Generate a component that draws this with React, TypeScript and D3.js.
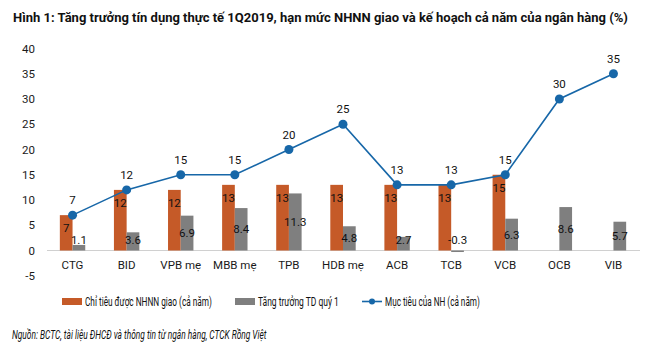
import React, { useEffect, useRef } from 'react';
import * as d3 from 'd3';

const banks = ['CTG', 'BID', 'VPB mẹ', 'MBB mẹ', 'TPB', 'HDB mẹ', 'ACB', 'TCB', 'VCB', 'OCB', 'VIB'];
const sbvQuota = [7, 12, 12, 13, 13, 13, 13, 13, 15, null, null];
const q1Growth = [1.1, 3.6, 6.9, 8.4, 11.3, 4.8, 2.7, -0.3, 6.3, 8.6, 5.7];
const bankTarget = [7, 12, 15, 15, 20, 25, 13, 13, 15, 30, 35];
const yTicks = [-5, 0, 5, 10, 15, 20, 25, 30, 35, 40];

const title = 'Hình 1: Tăng trưởng tín dụng thực tế 1Q2019, hạn mức NHNN giao và kế hoạch cả năm của ngân hàng (%)';
const legendNames = ['Chỉ tiêu được NHNN giao (cả năm)', 'Tăng trưởng TD quý 1', 'Mục tiêu của NH (cả năm)'];
const source = 'Nguồn: BCTC, tài liệu ĐHCĐ và thông tin từ ngân hàng, CTCK Rồng Việt';

const ORANGE = '#c55a28';
const GRAY = '#7f7f7f';
const BLUE = '#1767a8';
const FONT = '"Roboto", sans-serif';

function CreditChart() {
  const ref = useRef<SVGSVGElement>(null);

  useEffect(() => {
    const svg = d3.select(ref.current);
    svg.selectAll('*').remove();
    svg.style('font-family', FONT);

    const x = d3.scaleBand().domain(banks).range([45.5, 640.5]);
    const y = d3.scaleLinear().domain([-5, 40]).range([275.75, 48.5]);
    const barW = 12.7;
    const rows = banks.map((b, i) => ({ bank: b, quota: sbvQuota[i], growth: q1Growth[i], target: bankTarget[i] }));
    const cx = (b: string) => (x(b) as number) + x.bandwidth() / 2;

    // squeeze a text horizontally to the given width (the original uses a condensed face)
    const condensed = (px: number, py: number, str: string, width: number, size: number, extra?: (t: any) => void) => {
      const g = svg.append('g');
      const t = g.append('text').attr('x', 0).attr('y', 0)
        .attr('font-size', size).attr('fill', '#111').text(str);
      if (extra) extra(t);
      const w = (t.node() as SVGTextElement).getComputedTextLength();
      g.attr('transform', `translate(${px},${py}) scale(${width / w},1)`);
    };

    // title
    condensed(13, 21.5, title, 615, 13, t => t.attr('font-weight', 'bold'));

    // y tick labels, no axis line
    svg.append('g').selectAll('text')
      .data(yTicks).enter().append('text')
      .attr('x', 35).attr('y', d => y(d) + 4)
      .attr('text-anchor', 'end').attr('font-size', 11.5).attr('fill', '#1a1a1a')
      .text(d => d);

    // zero axis
    svg.append('line')
      .attr('x1', 47).attr('x2', 640)
      .attr('y1', y(0)).attr('y2', y(0))
      .attr('stroke', '#d0d0d0').attr('stroke-width', 1);

    // orange bars
    const quotaRows = rows.filter(d => d.quota !== null);
    svg.append('g').selectAll('rect')
      .data(quotaRows).enter().append('rect')
      .attr('x', d => cx(d.bank) - barW)
      .attr('width', barW)
      .attr('y', d => y(d.quota as number))
      .attr('height', d => y(0) - y(d.quota as number))
      .attr('fill', ORANGE);

    // gray bars
    svg.append('g').selectAll('rect')
      .data(rows).enter().append('rect')
      .attr('x', d => cx(d.bank))
      .attr('width', barW)
      .attr('y', d => Math.min(y(d.growth), y(0)))
      .attr('height', d => Math.max(Math.abs(y(0) - y(d.growth)), 1))
      .attr('fill', GRAY);

    // category labels
    svg.append('g').selectAll('text')
      .data(banks).enter().append('text')
      .attr('x', d => cx(d)).attr('y', 269)
      .attr('text-anchor', 'middle').attr('font-size', 11.5).attr('fill', '#1a1a1a')
      .text(d => d);

    // target line
    const line = d3.line<typeof rows[0]>().x(d => cx(d.bank)).y(d => y(d.target));
    svg.append('path')
      .datum(rows)
      .attr('d', line)
      .attr('fill', 'none').attr('stroke', BLUE).attr('stroke-width', 1.6);
    svg.append('g').selectAll('circle')
      .data(rows).enter().append('circle')
      .attr('cx', d => cx(d.bank)).attr('cy', d => y(d.target))
      .attr('r', 4.5).attr('fill', BLUE);

    // data labels
    svg.append('g').selectAll('text')
      .data(rows).enter().append('text')
      .attr('x', d => cx(d.bank)).attr('y', d => y(d.target) - 11)
      .attr('text-anchor', 'middle').attr('font-size', 11.5).attr('fill', '#111')
      .text(d => d.target);

    svg.append('g').selectAll('text')
      .data(quotaRows).enter().append('text')
      .attr('x', d => cx(d.bank) - barW / 2).attr('y', d => y(d.quota as number) + 17)
      .attr('text-anchor', 'middle').attr('font-size', 11.5).attr('fill', '#111')
      .text(d => d.quota as number);

    svg.append('g').selectAll('text')
      .data(rows).enter().append('text')
      .attr('x', d => cx(d.bank) + barW / 2)
      .attr('y', d => Math.min((y(0) + y(d.growth)) / 2, y(0) - 11) + 4)
      .attr('text-anchor', 'middle').attr('font-size', 11.5).attr('fill', '#111')
      .text(d => d.growth);

    // legend
    svg.append('rect').attr('x', 62).attr('y', 298).attr('width', 20).attr('height', 7).attr('fill', ORANGE);
    condensed(85, 306, legendNames[0], 127, 12);
    svg.append('rect').attr('x', 235).attr('y', 298).attr('width', 20).attr('height', 7).attr('fill', GRAY);
    condensed(258, 306, legendNames[1], 81, 12);
    svg.append('line').attr('x1', 362).attr('x2', 382).attr('y1', 301.5).attr('y2', 301.5)
      .attr('stroke', BLUE).attr('stroke-width', 1.6);
    svg.append('circle').attr('cx', 372).attr('cy', 301.5).attr('r', 3).attr('fill', BLUE);
    condensed(385, 306, legendNames[2], 95, 12);

    // source note
    condensed(12, 339, source, 255, 12, t => t.attr('font-style', 'italic'));
  }, []);

  return (
    <svg ref={ref} width={650} height={354}
      style={{ position: 'absolute', left: 0, top: 0, background: '#fff' }} />
  );
}

export default function App() {
  return <CreditChart />;
}
